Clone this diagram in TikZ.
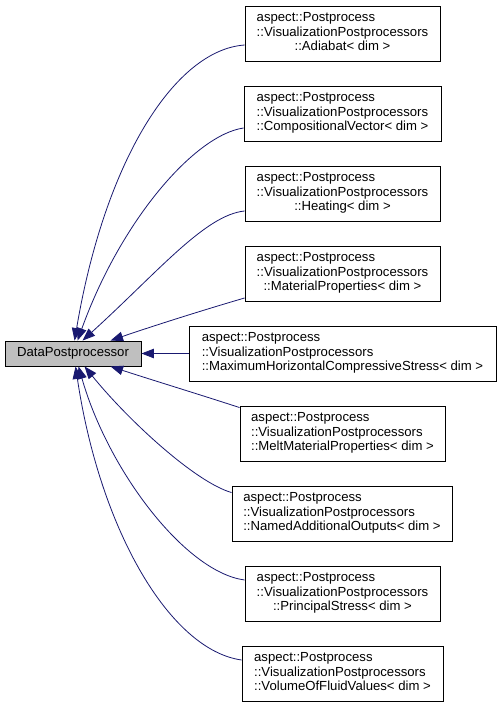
\documentclass[tikz,border=0pt]{standalone}
\usepackage{fontspec}
\setmainfont{Liberation Sans}
\usetikzlibrary{arrows.meta,calc}
\definecolor{edgeblue}{HTML}{191970}
\definecolor{dpgray}{HTML}{BFBFBF}
\newcommand\clstext[1]{\begin{tabular}{@{}l@{}}aspect::Postprocess\\::VisualizationPostprocessors\\\multicolumn{1}{@{}c@{}}{::#1< dim >}\end{tabular}}
\tikzset{
  cls/.style={draw=black, line width=0.9bp, fill=white, minimum height=55bp, inner sep=0pt,
    font=\fontsize{13.2}{14.5}\selectfont},
  base/.style={draw=black, line width=0.9bp, fill=dpgray, minimum height=25bp, minimum width=136bp,
    inner sep=0pt, font=\fontsize{13.2}{14.5}\selectfont},
  edge/.style={draw=edgeblue, line width=0.8bp, -{Triangle[length=12.5bp,width=9.5bp]}}
}
\begin{document}
\begin{tikzpicture}[x=1bp,y=-1bp]
\path[use as bounding box] (0,0) rectangle (501,705);
\node[base] (dp) at (73,353.5) {DataPostprocessor};
\node[cls, minimum width=195bp] (a1) at (342.5,33.5) {\clstext{Adiabat}};
\node[cls, minimum width=197bp] (a2) at (342.5,113.5) {\clstext{CompositionalVector}};
\node[cls, minimum width=195bp] (a3) at (342.5,193.5) {\clstext{Heating}};
\node[cls, minimum width=195bp] (a4) at (342.5,273.5) {\clstext{MaterialProperties}};
\node[cls, minimum width=307bp] (a5) at (342.5,353.5) {\clstext{MaximumHorizontalCompressiveStress}};
\node[cls, minimum width=205bp] (a6) at (342.5,433.5) {\clstext{MeltMaterialProperties}};
\node[cls, minimum width=220bp] (a7) at (342,513.5) {\clstext{NamedAdditionalOutputs}};
\node[cls, minimum width=195bp] (a8) at (342.5,593.5) {\clstext{PrincipalStress}};
\node[cls, minimum width=201bp] (a9) at (342.5,673.5) {\clstext{VolumeOfFluidValues}};

\draw[edge] ($(a1.west)+(0,11.5)$) .. controls (175,50) and (105,160) .. ($(dp.north west)+(70,0)$);
\draw[edge] ($(a2.west)+(0,14.5)$) .. controls (195,135) and (121,220) .. ($(dp.north west)+(73,0)$);
\draw[edge] ($(a3.west)+(0,17.5)$) .. controls (205,215) and (158,272) .. ($(dp.north west)+(78,0)$);
\draw[edge] ($(a4.west)+(0,24.5)$) .. controls (200,311) and (150,327) .. ($(dp.north west)+(106,0)$);
\draw[edge] (a5.west) -- (dp.east);
\draw[edge] ($(a6.north west)+(0,2)$) .. controls (198,394) and (152,380) .. ($(dp.south west)+(106,0)$);
\draw[edge] ($(a7.north west)+(0,7)$) .. controls (195,482) and (128,420) .. ($(dp.south west)+(80,0)$);
\draw[edge] ($(a8.west)+(0,-13.5)$) .. controls (185,572) and (108,470) .. ($(dp.south west)+(74,0)$);
\draw[edge] ($(a9.west)+(0,-13.5)$) .. controls (170,650) and (100,530) .. ($(dp.south west)+(71,0)$);
\end{tikzpicture}
\end{document}
